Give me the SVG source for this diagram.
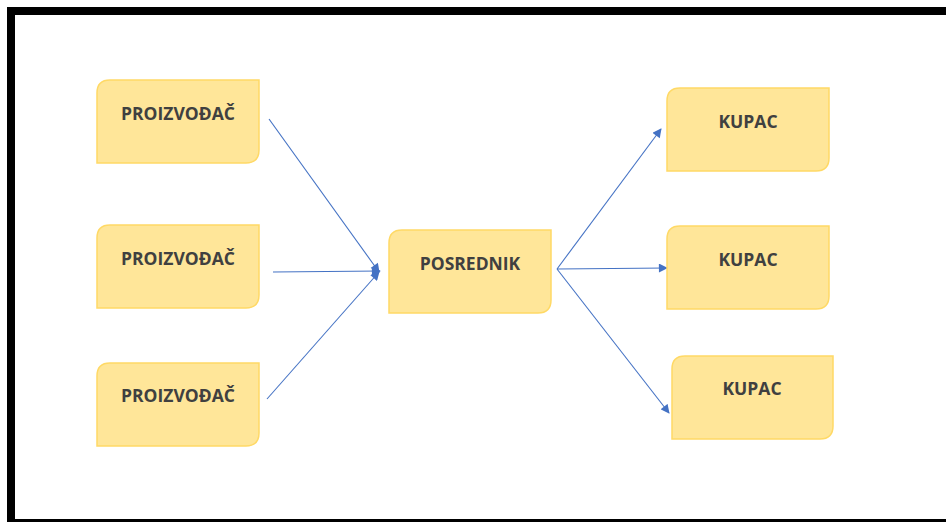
<svg xmlns="http://www.w3.org/2000/svg" width="946" height="522" viewBox="0 0 946 522">
<style>
.box{fill:#FFE699;stroke:#FFD966;stroke-width:1.5}
.lbl{font-family:"Open Sans","Liberation Sans",sans-serif;font-weight:bold;font-size:17.5px;fill:#404040;text-anchor:middle;dominant-baseline:central}
.con{stroke:#4472C4;stroke-width:1.1;fill:none;marker-end:url(#ah)}
</style>
<defs>
<marker id="ah" viewBox="0 0 10 10" refX="9" refY="5" markerWidth="10" markerHeight="9" markerUnits="userSpaceOnUse" orient="auto">
<path d="M0,0 L10,5 L0,10 z" fill="#4472C4"/>
</marker>
</defs>
<rect x="0" y="0" width="946" height="522" fill="#fff"/>
<rect x="11" y="11" width="950" height="512" fill="none" stroke="#000" stroke-width="8"/>
<g id="connectors">
<line class="con" x1="269" y1="119" x2="379" y2="272"/>
<line class="con" x1="273" y1="272" x2="380" y2="271"/>
<line class="con" x1="267" y1="399" x2="379" y2="272"/>
<line class="con" x1="557" y1="269" x2="661" y2="129"/>
<line class="con" x1="557" y1="269" x2="667" y2="268"/>
<line class="con" x1="557" y1="269" x2="669" y2="413"/>
</g>
<g id="p1"><path class="box" d="M110,80 H259 V150 Q259,163 246,163 H97 V93 Q97,80 110,80 Z"/><text class="lbl" x="178" y="113">PROIZVOĐAČ</text></g>
<g id="p2"><path class="box" d="M110,225 H259 V295 Q259,308 246,308 H97 V238 Q97,225 110,225 Z"/><text class="lbl" x="178" y="258">PROIZVOĐAČ</text></g>
<g id="p3"><path class="box" d="M110,363 H259 V433 Q259,446 246,446 H97 V376 Q97,363 110,363 Z"/><text class="lbl" x="178" y="395">PROIZVOĐAČ</text></g>
<g id="posrednik"><path class="box" d="M402,230 H551 V300 Q551,313 538,313 H389 V243 Q389,230 402,230 Z"/><text class="lbl" x="470" y="263">POSREDNIK</text></g>
<g id="k1"><path class="box" d="M680,88 H829 V158 Q829,171 816,171 H667 V101 Q667,88 680,88 Z"/><text class="lbl" x="748" y="121">KUPAC</text></g>
<g id="k2"><path class="box" d="M680,226 H829 V296 Q829,309 816,309 H667 V239 Q667,226 680,226 Z"/><text class="lbl" x="748" y="259">KUPAC</text></g>
<g id="k3"><path class="box" d="M685,356 H833 V426 Q833,439 820,439 H672 V369 Q672,356 685,356 Z"/><text class="lbl" x="752" y="388">KUPAC</text></g>
</svg>
